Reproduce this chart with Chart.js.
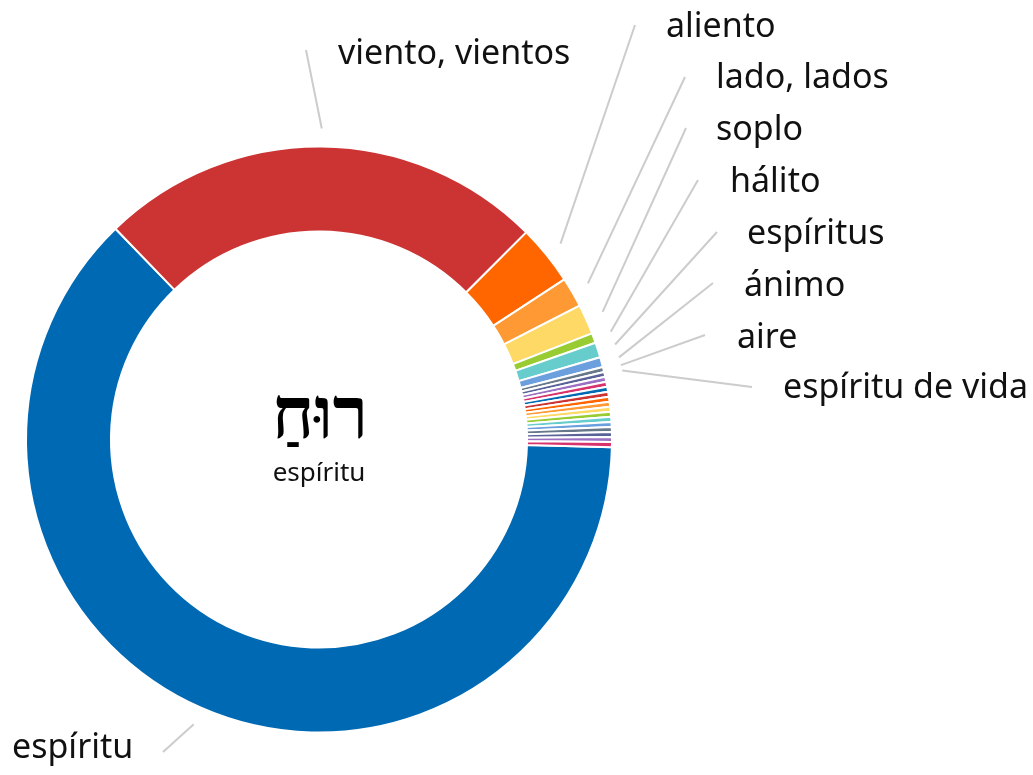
<!DOCTYPE html>
<html>
<head>
<meta charset="utf-8">
<script src="https://cdn.jsdelivr.net/npm/chart.js@4"></script>
<style>
html,body{margin:0;padding:0;background:#fff;}
#wrap{width:1033px;height:775px;}
</style>
</head>
<body>
<div id="wrap"><canvas id="chart" width="1033" height="775"></canvas></div>
<script>
/* Data */

const labels=["espíritu","viento, vientos","aliento","lado, lados","soplo","hálito","espíritus","ánimo","aire","espíritu de vida",
"otros 1","otros 2","otros 3","otros 4","otros 5","otros 6","otros 7","otros 8","otros 9","otros 10","otros 11","otros 12","otros 13","otros 14"];

const counts=[227,90,12,6,6,2,3,2,1,1,
1,1,1,1,1,1,1,1,1,1,1,1,1,1];

const hebrewWord="רוּחַ";
const centerWord="espíritu";

/* Colours */

const palette=["#0069b4","#cc3333","#ff6600","#ff9933","#ffd966","#99cc33","#66cccc","#6b9fdd","#66788a","#5a6399","#9b6fc2","#d9336d"];
const colors=labels.map((l,i)=>palette[i%palette.length]);

/* Label layout: [line end x, line end y, text x, text baseline y] */

const labelSpots=[
[163,752,12,758],
[306,50,338,64],
[635,25,666,37],
[685,77,716,88],
[686,128,716,140],
[698,180,730,192],
[717,232,747,244],
[713,283,744,296],
[705,335,737,348],
[752,387,783,398]
];

const outLabels={
id:"outLabels",
afterDraw(chart){
const ctx=chart.ctx;
const arcs=chart.getDatasetMeta(0).data;
ctx.save();

labelSpots.forEach((s,i)=>{
const a=arcs[i];
const mid=(a.startAngle+a.endAngle)/2;
const r=a.outerRadius+18;
ctx.strokeStyle="#cccccc";
ctx.lineWidth=2;
ctx.beginPath();
ctx.moveTo(a.x+Math.cos(mid)*r,a.y+Math.sin(mid)*r);
ctx.lineTo(s[0],s[1]);
ctx.stroke();
ctx.fillStyle="#111";
ctx.font='34px "Noto Sans"';
ctx.textAlign="left";
ctx.textBaseline="alphabetic";
ctx.fillText(labels[i],s[2],s[3]);
});

/* Center text */
const c=arcs[0];
ctx.textAlign="center";
ctx.textBaseline="alphabetic";
ctx.fillStyle="#000";
ctx.font='bold 72px "Liberation Serif"';
ctx.fillText(hebrewWord,c.x+1,c.y-2);
ctx.fillStyle="#111";
ctx.font='26px "Noto Sans"';
ctx.fillText(centerWord,c.x,c.y+41);

ctx.restore();
}
};

new Chart(document.getElementById("chart"),{
type:"doughnut",
data:{
labels:labels,
datasets:[{
data:counts,
backgroundColor:colors,
borderColor:"#ffffff",
borderWidth:2
}]
},
options:{
responsive:false,
animation:false,
rotation:91.5,
radius:293,
cutout:"71%",
layout:{padding:{left:0,right:395,top:104,bottom:0}},
plugins:{
legend:{display:false},
tooltip:{enabled:false}
}
},
plugins:[outLabels]
});
</script>
</body>
</html>
